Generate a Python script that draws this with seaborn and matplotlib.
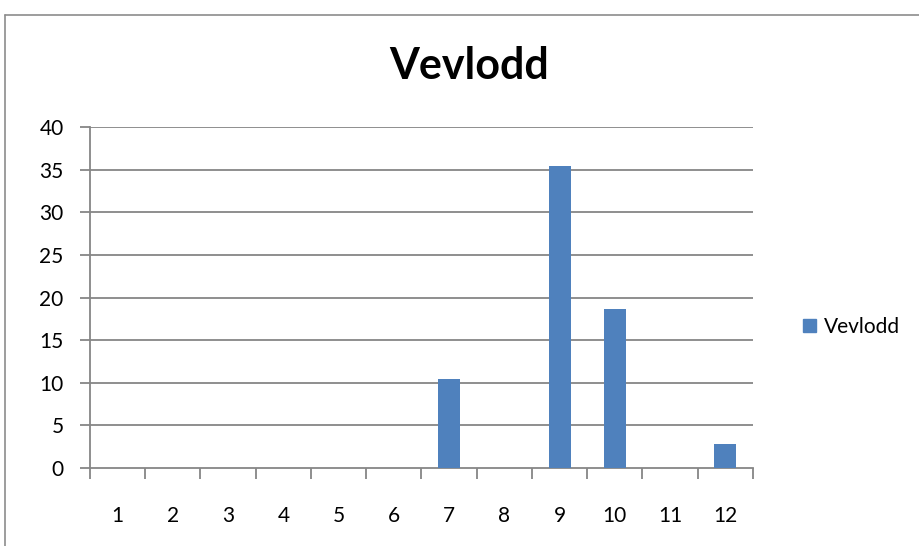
import matplotlib
matplotlib.use("Agg")
import matplotlib.pyplot as plt
import numpy as np
import pandas as pd
import seaborn as sns
from matplotlib.lines import Line2D
from matplotlib.patches import Patch

# values
months = ["1", "2", "3", "4", "5", "6", "7", "8", "9", "10", "11", "12"]
vevlodd = [0, 0, 0, 0, 0, 0, 10.4, 0, 35.4, 18.7, 0, 2.8]
y_ticks = [0, 5, 10, 15, 20, 25, 30, 35, 40]

bar_color = "#4F81BD"
grid_color = "#868686"

sns.set_theme(style="white")
plt.rcParams["font.family"] = ["Lato", "DejaVu Sans"]
plt.rcParams["text.color"] = "black"
plt.rcParams["xtick.color"] = "black"
plt.rcParams["ytick.color"] = "black"

df = pd.DataFrame({"month": months, "value": vevlodd})

fig = plt.figure(figsize=(9.2, 5.46), dpi=100)
ax = fig.add_axes([90 / 920, 1 - 468 / 546, (753 - 90) / 920, (468 - 127) / 546])

sns.barplot(data=df, x="month", y="value", color=bar_color, width=0.4,
            saturation=1, linewidth=0, ax=ax, zorder=3)

ax.set_ylim(0, 40)
ax.set_xlim(-0.5, len(months) - 0.5)
ax.set_yticks(y_ticks)
ax.set_xlabel("")
ax.set_ylabel("")

# gridlines, Excel-like
for v in y_ticks[1:]:
    ax.axhline(v, color=grid_color, linewidth=1.3, zorder=1)

for side in ["top", "right"]:
    ax.spines[side].set_visible(False)
for side in ["left", "bottom"]:
    ax.spines[side].set_color(grid_color)
    ax.spines[side].set_linewidth(1.3)

ax.tick_params(axis="y", length=7, width=1.3, color=grid_color, direction="out",
               labelsize=15, labelcolor="black", pad=12, left=True)
ax.tick_params(axis="x", which="major", length=0, labelsize=15,
               labelcolor="black", pad=27)
ax.set_xticks(np.arange(-0.5, len(months), 1), minor=True)
ax.tick_params(axis="x", which="minor", length=8, width=1.3, color=grid_color,
               direction="out", bottom=True)

fig.text(469 / 920, 1 - 66 / 546, "Vevlodd", ha="center", va="center",
         fontsize=31, fontweight="bold", color="black")

ax.legend(handles=[Patch(color=bar_color, label="Vevlodd")],
          loc="center left", bbox_to_anchor=(795 / 920, 1 - 327 / 546),
          bbox_transform=fig.transFigure, frameon=False, fontsize=15,
          handlelength=0.6, handleheight=0.6, handletextpad=0.4,
          borderaxespad=0)

# chart area frame (cropped on the right and bottom)
frame_color = "#8c8c8c"
fig.add_artist(Line2D([5.5 / 920, 5.5 / 920], [0, 1 - 15 / 546],
                      color=frame_color, linewidth=1.2, transform=fig.transFigure))
fig.add_artist(Line2D([5.5 / 920, 1], [1 - 15 / 546, 1 - 15 / 546],
                      color=frame_color, linewidth=1.2, transform=fig.transFigure))

fig.savefig("out.png", dpi=100, facecolor="white")
